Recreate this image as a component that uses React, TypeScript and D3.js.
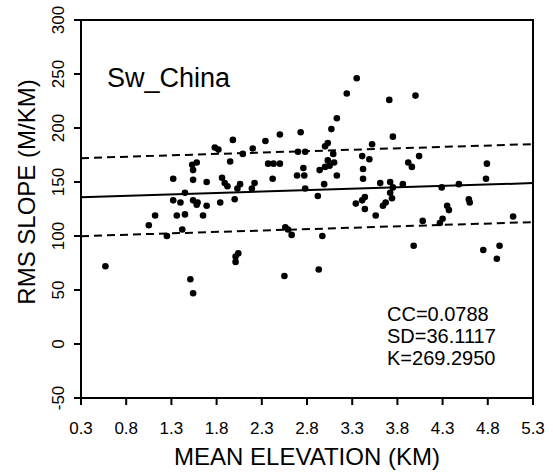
import React from 'react';
import * as d3 from 'd3';

// mean elevation (km) of each point
const elevation = [
  0.57, 1.05, 1.12, 1.25, 1.32, 1.32, 1.40, 1.36, 1.45, 1.42,
  1.45, 1.51, 1.54, 1.53, 1.58, 1.54, 1.54, 1.54, 1.59, 1.58,
  1.65, 1.69, 1.69, 1.78, 1.82, 1.84, 1.86, 1.89, 1.92, 1.95,
  1.98, 2.00, 2.03, 2.06, 2.04, 2.01, 2.01, 2.09, 2.20, 2.34,
  2.50, 2.73, 2.37, 2.43, 2.50, 2.42, 2.22, 2.19, 2.70, 2.78,
  2.76, 2.69, 2.77, 2.78, 2.56, 2.59, 2.63, 2.55, 2.92, 2.97,
  2.93, 3.00, 3.03, 3.07, 3.13, 3.24, 3.35, 3.09, 3.03, 3.10,
  3.05, 3.00, 2.94, 3.13, 2.99, 3.41, 3.49, 3.42, 3.42, 3.52,
  3.34, 3.44, 3.56, 3.44, 3.41, 3.71, 4.00, 3.75, 4.04, 3.92,
  3.96, 3.61, 3.72, 3.75, 3.72, 3.74, 3.67, 3.64, 3.86, 4.29,
  4.48, 4.79, 4.78, 4.35, 4.37, 4.59, 4.60, 4.08, 4.27, 4.30,
  5.08, 3.98, 4.75, 4.93, 4.90
];

// rms slope (m/km) of each point
const rmsSlope = [
  72, 110, 119, 100, 153, 133, 131, 119, 120, 106,
  140, 60, 47, 166, 168, 161, 152, 133, 131, 129,
  119, 150, 128, 182, 180, 131, 154, 149, 146, 169,
  189, 134, 144, 148, 84, 81, 76, 176, 181, 188,
  194, 196, 167, 167, 167, 153, 149, 144, 178, 178,
  163, 156, 156, 144, 108, 106, 101, 63, 137, 100,
  69, 183, 186, 199, 209, 232, 246, 176, 170, 168,
  165, 164, 161, 156, 148, 174, 171, 162, 153, 185,
  130, 125, 119, 136, 133, 226, 230, 192, 174, 168,
  164, 149, 150, 145, 140, 135, 131, 128, 148, 145,
  148, 167, 153, 128, 124, 134, 131, 114, 112, 116,
  118, 91, 87, 91, 79
];

const xTicks = [0.3, 0.8, 1.3, 1.8, 2.3, 2.8, 3.3, 3.8, 4.3, 4.8, 5.3];
const yTicks = [-50, 0, 50, 100, 150, 200, 250, 300];

const regionName = 'Sw_China';
const statLines = ['CC=0.0788', 'SD=36.1117', 'K=269.2950'];

// fitted line
const fitIntercept = 135.2;
const fitSlope = 2.6;
const fitSD = 36.1117;

const width = 553;
const height = 476;
const margin = {top: 20, right: 20, bottom: 78, left: 81};
const font = '"Liberation Sans", Arial, Helvetica, sans-serif';

export default function App(){
  const xScale = d3.scaleLinear()
    .domain([0.3, 5.3])
    .range([margin.left, width - margin.right]);
  const yScale = d3.scaleLinear()
    .domain([-50, 300])
    .range([height - margin.bottom, margin.top]);

  const [x0, x1] = xScale.range();
  const [yBot, yTop] = yScale.range();
  const ends = xScale.domain();

  const fitLine = (off) => d3.line()
    .x(d => xScale(d))
    .y(d => yScale(fitIntercept + off + fitSlope * d))(ends);

  const points = elevation.map((e, i) => ({x: e, y: rmsSlope[i]}));

  return(
    <svg width={width} height={height}
      style={{position: 'absolute', left: 0, top: 0, background: '#fff', fontFamily: font}}>
      <rect x={x0} y={yTop} width={x1 - x0} height={yBot - yTop}
        fill='none' stroke='#000' strokeWidth={2} />

      {yTicks.map(t => (
        <line key={'yt' + t} x1={x0 - 7} x2={x0} y1={yScale(t)} y2={yScale(t)}
          stroke='#000' strokeWidth={2} />
      ))}
      {/* whole y label column turned on its side, like the scan */}
      <g transform='rotate(-90)' fontSize={17} textAnchor='middle'>
        {yTicks.map(t => (
          <text key={'yl' + t} x={-yScale(t)} y={64}>{String(t)}</text>
        ))}
        <text x={-192} y={35} fontSize={24}>RMS SLOPE (M/KM)</text>
      </g>

      {xTicks.map(t => (
        <g key={'x' + t} transform={`translate(${xScale(t)},0)`}>
          <line y1={yBot} y2={yBot + 7} stroke='#000' strokeWidth={2} />
          <text y={434} textAnchor='middle' fontSize={17}>{d3.format('.1f')(t)}</text>
        </g>
      ))}

      <text x={(x0 + x1) / 2} y={465} textAnchor='middle' fontSize={24}>MEAN ELEVATION (KM)</text>

      <path d={fitLine(0)} fill='none' stroke='#000' strokeWidth={2} />
      <path d={fitLine(fitSD)} fill='none' stroke='#000' strokeWidth={2} strokeDasharray='8,5' />
      <path d={fitLine(-fitSD)} fill='none' stroke='#000' strokeWidth={2} strokeDasharray='8,5' />

      {points.map((d, i) => (
        <circle key={i} cx={xScale(d.x)} cy={yScale(d.y)} r={3.3} fill='#000' />
      ))}

      <text x={107} y={87} fontSize={27}>{regionName}</text>
      {statLines.map((s, i) => (
        <text key={s} x={387} y={321 + i * 22} fontSize={20}>{s}</text>
      ))}
    </svg>
  )
}
